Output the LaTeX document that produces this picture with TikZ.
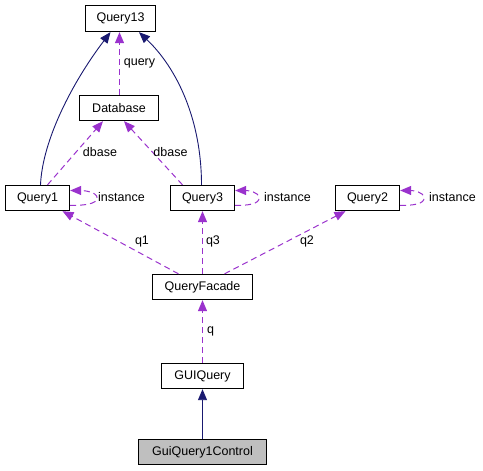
\documentclass[tikz,border=0pt]{standalone}
\usepackage{fontspec}
\setmainfont{Liberation Sans}
\usetikzlibrary{arrows.meta,calc}
\definecolor{navyc}{HTML}{191970}
\definecolor{purp}{HTML}{9A32CD}
\definecolor{grayfill}{HTML}{BFBFBF}
\begin{document}
\begin{tikzpicture}[x=1pt,y=-1pt,
  font=\fontsize{12.5}{14}\selectfont,
  cls/.style={draw=black,line width=1.3pt,inner sep=0pt,fill=white},
  inh/.style={draw=navyc,line width=0.9pt,-{Triangle[length=11pt,width=9pt]},color=navyc},
  dep/.style={draw=purp,line width=1pt,dash pattern=on 6pt off 4pt,-{Triangle[length=11pt,width=9pt]},color=purp},
  lbl/.style={inner sep=0pt,text=black}]
\useasboundingbox (0,0) rectangle (483,471);
\node[cls,minimum width=70pt,minimum height=26pt] (q13) at (120.5,18.5) {Query13};
\node[cls,minimum width=79pt,minimum height=25pt] (db) at (119,108) {Database};
\node[cls,minimum width=64pt,minimum height=25pt] (q1) at (37.5,198) {Query1};
\node[cls,minimum width=64pt,minimum height=25pt] (q3) at (202.5,198) {Query3};
\node[cls,minimum width=64pt,minimum height=25pt] (q2) at (367.5,198) {Query2};
\node[cls,minimum width=100pt,minimum height=25pt] (qf) at (202.5,287) {QueryFacade};
\node[cls,minimum width=82pt,minimum height=25pt] (gq) at (202.5,376) {GUIQuery};
\node[cls,fill=grayfill,minimum width=128pt,minimum height=25pt] (gc) at (202.5,452) {GuiQuery1Control};
% inheritance
\draw[inh] (gc) -- (gq);
\draw[inh] ([xshift=3]q1.north) .. controls +(2,-45) and +(-38,50) .. ([xshift=-10]q13.south);
\draw[inh] ([xshift=-1]q3.north) .. controls +(0,-65) and +(38,36) .. ([xshift=18.5]q13.south);
% dependencies
\coordinate (dbtop) at ([xshift=0.5]db.north);
\coordinate (q13bot) at (dbtop |- q13.south);
\draw[dep] (dbtop) -- (q13bot);
\draw[dep] ([xshift=10]q1.north) -- ([xshift=-16]db.south);
\draw[dep] ([xshift=-20]q3.north) -- ([xshift=5]db.south);
\draw[dep] ([xshift=-24]qf.north) -- ([xshift=25]q1.south);
\draw[dep] (qf.north) -- (q3.south);
\draw[dep] ([xshift=22]qf.north) -- ([xshift=-22]q2.south);
\draw[dep] (gq) -- (qf);
% self loops
\coordinate (l1) at ($(q1.east)+(27,0)$);
\coordinate (l3) at ($(q3.east)+(24,0)$);
\coordinate (l2) at ($(q2.east)+(24,0)$);
\draw[dep] ([yshift=-7.5]q1.east) .. controls +(14,0) and +(0,6) .. (l1) .. controls +(0,-6) and +(14,0) .. ([yshift=7.5]q1.east);
\draw[dep] ([yshift=-7.5]q3.east) .. controls +(13,0) and +(0,6) .. (l3) .. controls +(0,-6) and +(13,0) .. ([yshift=7.5]q3.east);
\draw[dep] ([yshift=-7.5]q2.east) .. controls +(13,0) and +(0,6) .. (l2) .. controls +(0,-6) and +(13,0) .. ([yshift=7.5]q2.east);
% labels
\node[lbl] (tquery) at (139.5,63) {query};
\node[lbl] (tdb1) at (100,152) {dbase};
\node[lbl] (tdb3) at (170.5,152) {dbase};
\node[lbl] (ti1) at (121.5,197) {instance};
\node[lbl] (ti3) at (287.5,197) {instance};
\node[lbl] (ti2) at (452.5,197) {instance};
\node[lbl] (tq1) at (142,241) {q1};
\node[lbl] (tq3) at (213,241) {q3};
\node[lbl] (tq2) at (307,241) {q2};
\node[lbl] (tq) at (210.5,331) {q};
\end{tikzpicture}
\end{document}
